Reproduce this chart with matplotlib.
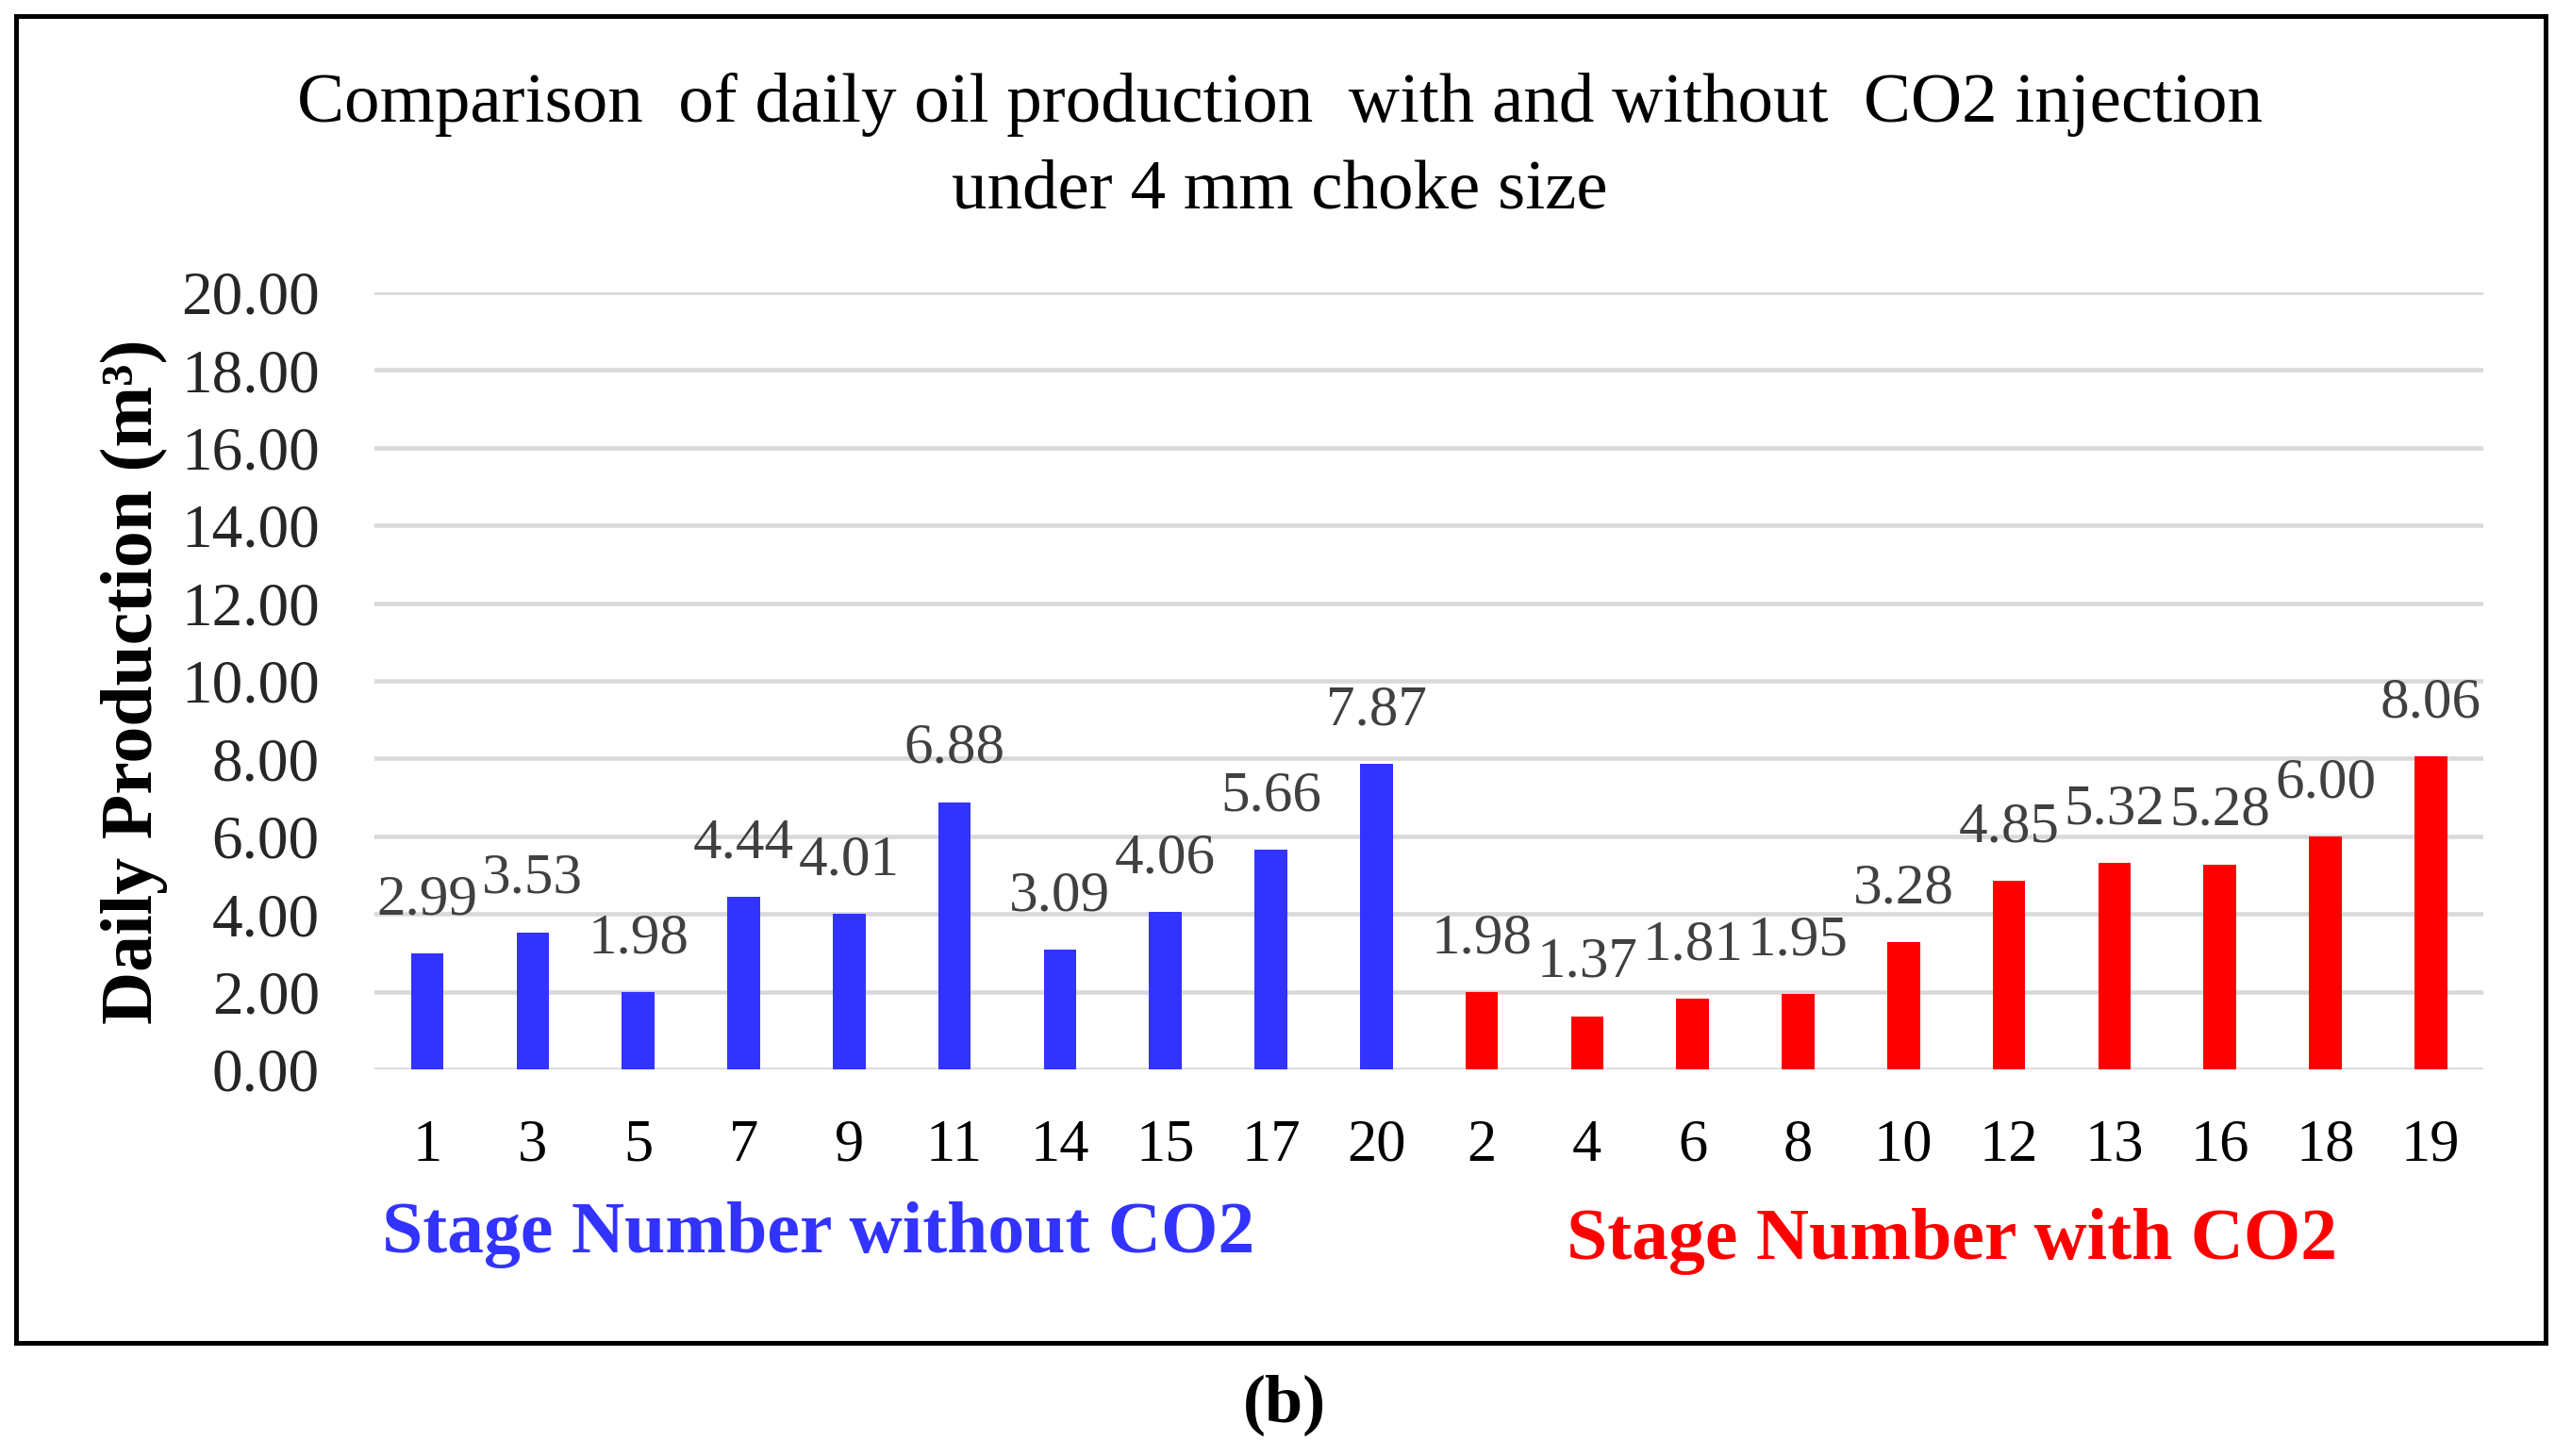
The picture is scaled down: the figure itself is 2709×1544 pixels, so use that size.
import matplotlib
matplotlib.use("Agg")
import matplotlib.pyplot as plt
from matplotlib.patches import Rectangle
import numpy as np

# stage numbers, grouped: without CO2 first, then with CO2
stages_no_co2 = ["1", "3", "5", "7", "9", "11", "14", "15", "17", "20"]
prod_no_co2 = [2.99, 3.53, 1.98, 4.44, 4.01, 6.88, 3.09, 4.06, 5.66, 7.87]
stages_co2 = ["2", "4", "6", "8", "10", "12", "13", "16", "18", "19"]
prod_co2 = [1.98, 1.37, 1.81, 1.95, 3.28, 4.85, 5.32, 5.28, 6.00, 8.06]
yticks = [0, 2, 4, 6, 8, 10, 12, 14, 16, 18, 20]

blue = "#3333FF"
red = "#FF0000"

plt.rcParams["font.family"] = ["Liberation Serif", "DejaVu Serif"]

fig = plt.figure(figsize=(27.09, 15.44), dpi=100)
ax = fig.add_axes([0.1466, 0.2655, 0.8254, 0.5337])

labels = stages_no_co2 + stages_co2
values = prod_no_co2 + prod_co2
colors = [blue] * len(prod_no_co2) + [red] * len(prod_co2)
x = np.arange(len(values))

ax.set_axisbelow(True)
ax.yaxis.grid(True, color="#D9D9D9", linewidth=3.3)
bars = ax.bar(x, values, width=0.31, color=colors)

for xi, v in zip(x, values):
    ax.annotate(f"{v:.2f}", (xi, v), xytext=(0, 30), textcoords="offset points",
                ha="center", va="baseline", fontsize=44, color="#404040")

ax.set_xlim(-0.5, len(values) - 0.5)
ax.set_ylim(0, 20)
ax.set_yticks(yticks)
ax.set_yticklabels([f"{t:.2f}" for t in yticks])
ax.set_xticks(x)
ax.set_xticklabels(labels)
ax.tick_params(axis="y", length=0, pad=42, labelsize=47, labelcolor="#262626")
ax.tick_params(axis="x", length=0, pad=38, labelsize=45, labelcolor="black")
for s in ax.spines.values():
    s.set_visible(False)

fig.text(0.5009, 0.8985,
         "Comparison  of daily oil production  with and without  CO2 injection\nunder 4 mm choke size",
         ha="center", va="center", fontsize=54, linespacing=1.45, color="black")

fig.text(0.0524, 0.5317, "Daily Production (m³)", rotation=90, ha="center", va="center",
         fontsize=56, fontweight="bold")

fig.text(0.3204, 0.1399, "Stage Number without CO2", ha="center", va="baseline",
         fontsize=56, fontweight="bold", color=blue)
fig.text(0.7641, 0.1354, "Stage Number with CO2", ha="center", va="baseline",
         fontsize=56, fontweight="bold", color=red)

fig.text(0.5028, 0.035, "(b)", ha="center", va="center", fontsize=52, fontweight="bold")

fig.patches.append(Rectangle((0.0063, 0.0777), 0.99, 0.9113, transform=fig.transFigure,
                             fill=False, edgecolor="black", linewidth=3.6))

fig.savefig("out.png", dpi=100)
